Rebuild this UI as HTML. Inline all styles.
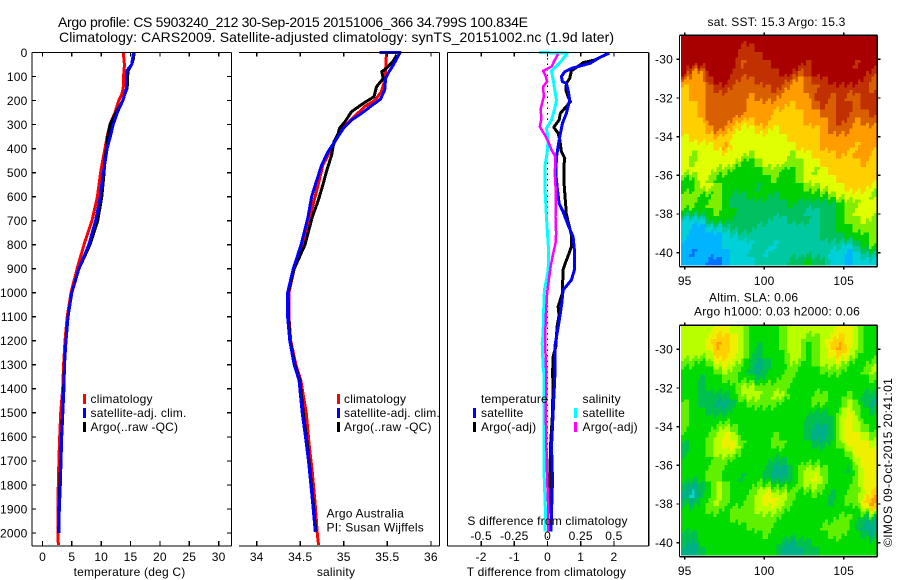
<!DOCTYPE html>
<html lang="en">
<head>
<meta charset="utf-8">
<title>Argo profile CS 5903240_212</title>
<style>
html,body{margin:0;padding:0;background:#fff;}
svg{display:block;}
text{font-family:"Liberation Sans",Arial,sans-serif;font-size:12px;fill:#000;letter-spacing:.2px;}
.title{font-size:14px;letter-spacing:0;}
.crisp{shape-rendering:crispEdges;}
</style>
</head>
<body>
<svg id="chart" xmlns="http://www.w3.org/2000/svg" width="900" height="580" viewBox="0 0 900 580">
  <rect x="0" y="0" width="900" height="580" fill="#fff"/>

  <text class="title" x="58" y="27" textLength="470">Argo profile: CS 5903240_212 30-Sep-2015 20151006_366 34.799S 100.834E</text>
  <text class="title" x="59" y="42" textLength="555">Climatology: CARS2009. Satellite-adjusted climatology: synTS_20151002.nc (1.9d later)</text>

  <g id="panel-t"></g>
  <g id="panel-s"></g>
  <g id="panel-d"></g>
  <g id="map-sst"></g>
  <g id="map-sla"></g>

  <text x="129.5" y="576" text-anchor="middle">temperature (deg C)</text>
  <text x="336" y="576" text-anchor="middle">salinity</text>
  <text x="546.5" y="576" text-anchor="middle">T difference from climatology</text>
  <text x="547.5" y="525" text-anchor="middle">S difference from climatology</text>

  <g>
    <rect class="crisp" x="83" y="394" width="3" height="10" fill="#f00"/>
    <text x="90.5" y="403">climatology</text>
    <rect class="crisp" x="83" y="408" width="3" height="10" fill="#00f"/>
    <text x="90.5" y="417">satellite-adj. clim.</text>
    <rect class="crisp" x="83" y="422" width="3" height="10" fill="#000"/>
    <text x="90.5" y="431">Argo(..raw -QC)</text>
  </g>
  <g>
    <rect class="crisp" x="337" y="394" width="3" height="10" fill="#f00"/>
    <text x="344" y="403">climatology</text>
    <rect class="crisp" x="337" y="408" width="3" height="10" fill="#00f"/>
    <text x="344" y="417">satellite-adj. clim.</text>
    <rect class="crisp" x="337" y="422" width="3" height="10" fill="#000"/>
    <text x="344" y="431">Argo(..raw -QC)</text>
  </g>
  <g>
    <text x="481" y="403">temperature</text>
    <rect class="crisp" x="473" y="408" width="3" height="10" fill="#00f"/>
    <text x="481" y="417">satellite</text>
    <rect class="crisp" x="473" y="422" width="3" height="10" fill="#000"/>
    <text x="481" y="431">Argo(-adj)</text>
    <text x="582.5" y="403">salinity</text>
    <rect class="crisp" x="574" y="408" width="3" height="10" fill="#0ff"/>
    <text x="582.5" y="417">satellite</text>
    <rect class="crisp" x="574" y="422" width="3" height="10" fill="#f0f"/>
    <text x="582.5" y="431">Argo(-adj)</text>
  </g>

  <text x="326.5" y="517.5">Argo Australia</text>
  <text x="326.5" y="531.5">PI: Susan Wijffels</text>

  <text x="707.5" y="26" textLength="138">sat. SST: 15.3 Argo: 15.3</text>
  <text x="709" y="301.5">Altim. SLA: 0.06</text>
  <text x="694" y="315.5" textLength="166">Argo h1000: 0.03 h2000: 0.06</text>
  <text transform="translate(892,547) rotate(-90)" textLength="169">©IMOS 09-Oct-2015 20:41:01</text>
</svg>

<script>
/* ---- profile depth tick labels ---- */
const depthTicks = [0,100,200,300,400,500,600,700,800,900,1000,1100,1200,1300,1400,1500,1600,1700,1800,1900,2000];
const tempTicks = [0,5,10,15,20,25,30];
const salTicks = [34,34.5,35,35.5,36];
const salTickLabels = ["34","34.5","35","35.5","36"];
const tDiffTicks = [-2,-1,0,1,2];
const sDiffTicks = [-0.5,-0.25,0,0.25,0.5];
const sDiffTickLabels = ["-0.5","-0.25","0","0.25","0.5"];
const lonTicks = [95,100,105];
const latTicks = [-30,-32,-34,-36,-38,-40];

/* ---- temperature profiles ---- */
const tempDepths = [0,25,50,75,100,125,150,175,200,225,250,275,300,350,400,450,500,600,700,800,900,1000,1100,1200,1300,1400,1500,1600,1700,1800,1900,2000];
const tempClimDepths = [0,25,50,75,100,125,150,175,200,225,250,275,300,350,400,450,500,600,700,800,900,1000,1100,1200,1300,1400,1500,1600,1700,1800,1900,2000,2050];
const tempClim = [13.8,13.85,13.95,13.9,13.8,13.8,13.75,13.5,13.0,12.65,12.35,11.9,11.5,11.0,10.65,10.25,9.9,9.35,8.43,7.07,5.9,4.85,4.2,3.84,3.6,3.44,3.1,2.93,2.8,2.7,2.6,2.65,2.7];
const tempSat = [15.5,15.35,15.2,14.4,14.3,14.3,14.3,14.0,13.7,13.2,12.75,12.4,12.05,11.55,11.0,10.7,10.35,9.85,9.05,7.9,6.2,5.0,4.35,4.0,3.75,3.65,3.45,3.27,3.15,3.04,2.87,2.8];
const tempArgo = [15.6,15.5,15.2,14.6,14.5,14.5,14.4,14.0,13.7,13.1,12.5,12.0,11.5,11.1,10.9,10.6,10.5,10.1,9.4,8.1,6.2,5.0,4.35,4.0,3.75,3.6,3.4,3.25,3.1,2.95,2.85,2.75];

/* ---- salinity profiles ---- */
const salClimDepths = [0,73,128,163,198,225,264,306,343,385,427,468,545,600,656,697,800,900,1000,1100,1200,1300,1363,1502,1627,1752,1877,2002,2050];
const salClim = [35.49,35.48,35.46,35.43,35.36,35.24,35.13,35.01,34.94,34.88,34.82,34.76,34.71,34.67,34.63,34.60,34.53,34.43,34.37,34.37,34.39,34.45,34.505,34.57,34.60,34.64,34.67,34.696,34.71];
const salSatDepths = [0,0,31,52,80,108,156,195,221,253,281,316,358,413,468,531,600,683,800,900,1000,1100,1200,1300,1363,1502,1599,1696,1807,1904,1995];
const salSat = [35.41,35.645,35.6,35.57,35.52,35.48,35.47,35.42,35.32,35.205,35.09,34.995,34.92,34.82,34.746,34.69,34.63,34.59,34.51,34.42,34.355,34.355,34.38,34.43,34.486,34.524,34.56,34.593,34.624,34.65,34.673];
const salArgoDepths = [10,34,66,80,108,142,184,212,246,288,316,337,371,427,496,545,614,683,800,900,1000,1100,1200,1300,1363,1502,1627,1752,1877,1995];
const salArgo = [35.61,35.57,35.49,35.435,35.454,35.377,35.347,35.224,35.09,35.014,34.95,34.937,34.887,34.86,34.80,34.765,34.708,34.64,34.555,34.43,34.36,34.365,34.385,34.44,34.495,34.535,34.58,34.615,34.65,34.68];

/* ---- difference profiles ---- */
const tSatDepths = [3,20,45,56,66,80,100,121,128,156,198,253,295,350,392,434,503,558,628,663,718,767,822,905,947,989,1044,1100,1169,1224,1349,1502,1640,1779,1918,1994];
const tSatDiff = [1.86,1.58,1.28,0.98,0.72,0.52,0.42,0.45,0.57,0.62,0.67,0.57,0.45,0.37,0.32,0.27,0.25,0.29,0.35,0.47,0.62,0.77,0.81,0.81,0.72,0.47,0.43,0.37,0.29,0.22,0.22,0.17,0.12,0.15,0.12,0.10];
const tArgoDepths = [3,31,42,76,108,128,156,184,205,232,253,281,311,336,364,413,440,475,531,586,642,663,760,808,836,871,905,933,961,1002,1058,1093,1141,1224,1266,1349,1363,1502,1640,1779,1918];
const tArgoDiff = [1.83,1.43,1.08,0.72,0.67,0.57,0.55,0.62,0.69,0.52,0.39,0.35,0.19,0.32,0.37,0.42,0.52,0.49,0.49,0.52,0.55,0.55,0.72,0.72,0.65,0.55,0.47,0.47,0.45,0.45,0.32,0.35,0.29,0.25,0.17,0.15,0.17,0.15,0.09,0.07,0.05];
const sSatDepths = [0,3,34,56,76,115,156,198,232,281,316,358,420,475,558,628,683,753,822,905,947,989,1058,1169,1211,1308,1349,1502,1765,1918,1994];
const sSatDiff = [-0.063,0.148,0.106,0.068,0.03,0.043,0.055,0.068,0.055,0.03,-0.008,0.005,-0.003,-0.02,-0.02,-0.013,-0.008,0,0.008,0.005,-0.008,-0.023,-0.028,-0.033,-0.04,-0.033,-0.025,-0.028,-0.025,-0.015,-0.018];
const sArgoDepths = [6,31,59,76,100,121,142,184,239,274,309,343,371,406,434,503,586,683,753,794,836,891,947,1002,1100,1197,1294,1349,1502,1640,1765,1890,1994];
const sArgoDiff = [0.08,0.055,0.03,-0.033,-0.013,-0.003,-0.033,-0.028,-0.053,-0.045,-0.058,-0.02,0.005,0.03,0.06,0.055,0.063,0.06,0.065,0.06,0.043,0.023,0.01,-0.003,-0.013,-0.018,-0.013,-0.008,-0.013,-0.008,-0.003,0.005,0.005];

/* ---- SST map levels (row north to south, column west to east) ---- */
const sstLevels = [
[12,12,12,12,12,12,12,12,12,12,12,12,12,12,12,12,12,12,12,12,12,12,12,12],
[12,12,12,12,12,12,12,11,11,12,12,12,12,12,12,12,12,12,12,12,12,12,12,12],
[12,12,12,12,12,12,12,11,11,11,12,12,12,12,12,12,12,12,12,12,12,12,12,12],
[12,12,12,12,12,12,12,10,11,11,11,12,12,12,12,11,12,12,12,12,12,11,12,12],
[12,9,9,12,12,12,11,11,11,11,11,11,12,12,10,11,12,12,12,12,12,12,12,11],
[9,9,9,11,12,12,11,10,10,11,11,11,11,10,9,10,11,11,12,12,12,12,11,10],
[8,9,9,10,11,11,10,10,10,10,10,11,10,9,9,10,10,11,11,11,11,11,11,10],
[8,9,9,10,10,10,10,10,9,10,10,10,9,9,9,9,11,11,10,11,10,10,11,11],
[8,8,9,10,10,10,10,10,9,9,9,9,9,8,9,9,10,11,10,11,11,10,11,11],
[8,8,9,10,10,10,10,10,9,9,9,8,8,8,8,9,9,10,10,11,11,10,10,11],
[8,8,8,10,10,10,9,8,8,9,9,8,8,8,8,9,9,9,10,11,10,9,10,10],
[8,8,8,9,10,9,8,7,7,8,8,7,8,8,8,8,8,9,10,10,10,9,9,9],
[7,8,8,8,8,8,7,7,7,7,7,7,7,8,8,8,8,9,9,9,9,9,9,9],
[7,7,7,7,8,9,7,7,7,7,7,7,7,7,8,8,8,9,9,9,9,8,9,9],
[7,6,7,7,7,7,7,7,6,7,7,7,7,6,7,7,8,8,8,9,8,9,9,8],
[7,6,7,7,7,7,7,5,5,6,7,7,7,6,6,7,7,8,8,8,8,8,9,8],
[7,7,7,7,6,6,5,5,5,5,6,6,5,5,6,7,6,7,8,8,8,8,8,8],
[5,5,7,6,5,5,5,5,5,5,5,6,5,5,6,7,7,7,7,8,8,8,8,8],
[5,5,7,7,6,5,5,5,5,4,5,5,5,5,5,6,6,7,7,7,8,8,8,7],
[6,6,5,5,6,5,4,4,5,5,5,4,5,5,5,5,5,5,6,7,7,7,7,6],
[6,6,5,6,6,5,4,4,4,4,4,4,4,5,4,4,4,4,4,5,6,6,7,7],
[5,5,5,5,6,5,5,4,4,4,4,4,4,4,4,3,3,4,4,5,6,7,7,7],
[2,2,2,5,5,5,4,4,4,4,4,3,3,4,4,4,3,4,4,5,6,6,7,6],
[2,1,1,2,2,3,4,4,4,3,3,3,3,3,3,3,3,4,4,5,5,6,6,6],
[2,1,1,1,1,2,2,3,3,3,3,3,3,3,3,3,3,4,4,4,5,5,5,6],
[1,1,1,1,1,2,2,2,2,3,3,2,3,3,3,3,3,3,3,3,2,4,5,6],
[1,0,1,1,1,1,2,2,3,3,2,3,3,3,3,3,3,3,2,2,1,2,4,4],
[1,1,1,0,0,1,2,2,2,3,3,3,3,4,4,5,4,4,2,2,1,2,2,2]
];

/* ---- sea level anomaly map levels ---- */
const slaLevels = [
[5,5,5,5,6,6,5,5,3,3,3,3,4,5,5,5,5,5,5,6,6,5,3,3],
[5,5,5,6,7,7,6,5,3,3,3,3,4,5,5,4,4,5,6,7,6,5,3,3],
[5,5,5,6,8,7,6,5,3,2,3,3,4,5,5,3,4,5,7,8,6,5,3,3],
[5,5,5,5,7,7,6,5,3,2,3,3,3,5,5,3,4,5,6,7,6,4,3,3],
[4,4,3,4,6,6,5,4,2,1,2,3,3,5,4,3,4,5,5,5,4,3,3,4],
[3,3,3,3,4,5,4,3,2,1,2,3,3,4,3,3,3,4,4,4,3,3,4,5],
[3,3,2,3,3,4,4,3,3,2,3,3,4,4,3,3,3,3,3,3,3,3,3,4],
[3,3,2,3,3,3,3,5,5,4,4,4,4,3,3,3,3,3,3,3,3,3,3,3],
[3,3,2,2,2,2,3,5,5,5,4,5,5,3,3,3,4,4,3,3,4,3,2,2],
[4,3,2,2,1,1,2,3,4,4,4,4,3,3,3,3,4,4,3,3,5,4,2,1],
[4,3,3,2,2,2,3,3,3,3,3,3,3,3,3,3,2,2,3,4,6,4,3,2],
[4,3,3,3,3,3,3,3,3,3,3,3,3,3,3,2,2,2,2,5,6,5,3,3],
[4,3,3,3,4,5,4,3,3,3,3,3,3,3,3,2,1,1,2,5,6,5,4,3],
[3,3,3,4,5,6,5,3,3,3,3,4,3,3,3,2,1,1,2,5,6,6,5,4],
[2,3,3,4,5,6,6,4,3,3,3,4,4,3,3,3,2,2,3,4,6,6,6,5],
[2,3,3,4,5,5,5,3,3,3,3,3,3,3,3,3,3,3,3,3,4,6,6,6],
[3,3,3,3,4,4,3,3,3,3,3,2,2,3,3,3,3,3,3,3,3,5,6,6],
[3,3,3,4,4,3,3,3,3,3,2,1,1,2,4,5,5,4,3,3,2,4,6,6],
[3,3,3,4,4,3,3,2,3,3,2,1,1,2,4,5,6,4,3,3,3,4,6,6],
[2,1,2,3,5,4,3,3,3,4,4,3,3,3,4,5,5,4,3,3,3,4,6,6],
[1,0,2,3,5,4,3,3,4,5,6,5,5,4,3,3,4,3,2,3,4,4,5,7],
[2,1,3,4,5,4,3,3,4,5,6,6,5,4,3,3,3,3,2,3,4,4,7,8],
[3,3,3,4,4,3,4,4,4,5,5,5,4,3,3,3,3,3,3,3,3,3,5,7],
[3,3,3,3,3,3,4,4,4,4,4,4,3,3,3,3,3,3,3,4,4,3,2,2],
[3,3,3,3,3,3,3,3,4,4,4,3,3,3,3,3,3,4,4,4,4,2,1,1],
[2,2,3,3,3,3,3,3,3,3,4,3,3,3,3,3,3,3,4,4,3,3,2,1],
[2,1,3,3,3,3,3,3,3,3,3,3,2,1,2,2,3,3,3,3,3,3,3,3],
[1,1,2,3,3,3,3,3,3,3,3,3,1,1,1,2,2,3,3,3,3,3,3,3]
];

const sstPalette = ['#0070ff','#00b4ff','#00d0d8','#00c8a0','#00c060','#00d000','#80ee00','#e0ff00','#ffd000','#ff9c00','#d86000','#c03000','#a80000'];
const slaPalette = ['#00d8c8','#00b088','#00c050','#00dc00','#60f000','#b8ff00','#eef000','#ffd000','#ffa000'];

const NS = 'http://www.w3.org/2000/svg';
function make(parent, tag, attrs) {
  const el = document.createElementNS(NS, tag);
  for (const k in attrs) el.setAttribute(k, attrs[k]);
  parent.appendChild(el);
  return el;
}

/* ---- axis functions ---- */
const TOP = 52.5, BOTTOM = 546;
const yDepth = d => 52.5 + d * 0.24025;
const xTemp = t => 42.5 + 5.87 * t;
const xSal = s => 256.7 + 87.1 * (s - 34);
const xTDiff = v => 547.5 + 33.2 * v;
const xSDiff = v => 547.5 + 132.8 * v;
const lonX = lon => 684.7 + (lon - 95) * 15.9;
const latY = lat => 59.3 + (-30 - lat) * 19.33;

function drawLine(parent, x1, y1, x2, y2, name) {
  const el = make(parent, 'line', {x1: x1, y1: y1, x2: x2, y2: y2, stroke: '#000', 'stroke-width': 1.3, class: 'crisp'});
  
  
  return el;
}
function drawText(parent, x, y, anchor, label, name) {
  const el = make(parent, 'text', {x: x, y: y, 'text-anchor': anchor});
  el.textContent = label;
  
  
  return el;
}
function drawSeries(parent, depths, values, xFn, color, width, name) {
  const pts = depths.map((d, i) => xFn(values[i]).toFixed(1) + ',' + yDepth(d).toFixed(1)).join(' ');
  const el = make(parent, 'polyline', {points: pts, fill: 'none', stroke: color, 'stroke-width': width, class: 'crisp', 'stroke-linejoin': 'round'});
  
  
  return el;
}
function drawXTicks(parent, ticks, labels, xFn, labelY) {
  ticks.forEach((t, i) => {
    const x = xFn(t);
    drawLine(parent, x, TOP, x, TOP + 4, 'x-tick-top');
    drawLine(parent, x, BOTTOM, x, BOTTOM - 5, 'x-tick-bottom');
    if (labelY) drawText(parent, x, labelY, 'middle', String(labels[i]), 'x-tick-label');
  });
}

/* ---- temperature panel ---- */
const gT = document.getElementById('panel-t');
drawSeries(gT, tempClimDepths, tempClim, xTemp, '#f00', 3, 'climatology-temperature-line');
drawSeries(gT, tempDepths, tempArgo, xTemp, '#000', 3, 'argo-temperature-line');
drawSeries(gT, tempDepths, tempSat, xTemp, '#00f', 3, 'satellite-temperature-line');
drawLine(gT, 32, TOP, 231.5, TOP, 'temperature-panel-top-spine');
drawLine(gT, 32, TOP, 32, BOTTOM, 'temperature-panel-left-spine');
drawLine(gT, 231.5, TOP, 231.5, BOTTOM, 'temperature-panel-right-spine');
drawLine(gT, 32, BOTTOM, 231.5, BOTTOM, 'temperature-panel-bottom-spine');
drawXTicks(gT, tempTicks, tempTicks, xTemp, 561);
depthTicks.forEach(d => {
  const y = yDepth(d);
  drawLine(gT, 32, y, 36, y, 'depth-tick-left');
  drawLine(gT, 231.5, y, 227, y, 'depth-tick-right');
  drawText(gT, 27.5, y + 4.3, 'end', String(d), 'depth-tick-label');
});

/* ---- salinity panel ---- */
const gS = document.getElementById('panel-s');
drawSeries(gS, salClimDepths, salClim, xSal, '#f00', 3, 'climatology-salinity-line');
drawSeries(gS, salArgoDepths, salArgo, xSal, '#000', 3, 'argo-salinity-line');
drawSeries(gS, salSatDepths, salSat, xSal, '#00f', 3, 'satellite-salinity-line');
drawLine(gS, 239, TOP, 439.5, TOP, 'salinity-panel-top-spine');
drawLine(gS, 439.5, TOP, 439.5, BOTTOM, 'salinity-panel-right-spine');
drawLine(gS, 239, BOTTOM, 439.5, BOTTOM, 'salinity-panel-bottom-spine');
drawXTicks(gS, salTicks, salTickLabels, xSal, 561);

/* ---- difference panel ---- */
const gD = document.getElementById('panel-d');
const zeroLine = drawLine(gD, 547.5, TOP, 547.5, BOTTOM, 'zero-difference-line');
zeroLine.setAttribute('stroke-dasharray', '1.5 4');
drawSeries(gD, tArgoDepths, tArgoDiff, xTDiff, '#000', 3, 'argo-t-difference-line');
drawSeries(gD, tSatDepths, tSatDiff, xTDiff, '#00f', 3, 'satellite-t-difference-line');
drawSeries(gD, sSatDepths, sSatDiff, xSDiff, '#0ff', 3, 'satellite-s-difference-line');
drawSeries(gD, sArgoDepths, sArgoDiff, xSDiff, '#f0f', 2.5, 'argo-s-difference-line');
drawLine(gD, 447.5, TOP, 648.7, TOP, 'difference-panel-top-spine');
drawLine(gD, 447.5, TOP, 447.5, BOTTOM, 'difference-panel-left-spine');
drawLine(gD, 648.7, TOP, 648.7, BOTTOM, 'difference-panel-right-spine');
drawLine(gD, 447.5, BOTTOM, 648.7, BOTTOM, 'difference-panel-bottom-spine');
drawXTicks(gD, tDiffTicks, tDiffTicks, xTDiff, 561);
sDiffTicks.forEach((t, i) => {
  drawText(gD, xSDiff(t), 540, 'middle', sDiffTickLabels[i], 's-difference-tick-label');
});

/* ---- maps: each grid cell is shaded in sub-cells sampled between neighbouring grid values ---- */
const LON_MIN = 94.77, LON_MAX = 107.09, LAT_MAX = -28.77, LAT_MIN = -40.65;
const SUB = 3;
function sampleGrid(levels, rf, cf) {
  const rows = levels.length, cols = levels[0].length;
  const r = Math.max(0, Math.min(rows - 1, rf)), c = Math.max(0, Math.min(cols - 1, cf));
  const r0 = Math.floor(r), c0 = Math.floor(c);
  const r1 = Math.min(rows - 1, r0 + 1), c1 = Math.min(cols - 1, c0 + 1);
  const a = r - r0, b = c - c0;
  return levels[r0][c0] * (1 - a) * (1 - b) + levels[r0][c1] * (1 - a) * b + levels[r1][c0] * a * (1 - b) + levels[r1][c1] * a * b;
}
function drawMap(parent, levels, palette, dy, cellName) {
  const rows = levels.length, cols = levels[0].length;
  const dLon = (LON_MAX - LON_MIN) / (cols * SUB), dLat = (LAT_MAX - LAT_MIN) / (rows * SUB);
  for (let i = 0; i < rows * SUB; i++) {
    for (let j = 0; j < cols * SUB; j++) {
      const tooth = ((j % 3) - 1) * 0.35;
      const rf = (i + 0.5) / SUB - 0.5 + tooth;
      const cf = (j + 0.5) / SUB - 0.5;
      const level = Math.round(sampleGrid(levels, rf, cf));
      const x0 = lonX(LON_MIN + j * dLon), x1 = lonX(LON_MIN + (j + 1) * dLon);
      const y0 = latY(LAT_MAX - i * dLat) + dy, y1 = latY(LAT_MAX - (i + 1) * dLat) + dy;
      const cell = make(parent, 'rect', {x: x0.toFixed(2), y: y0.toFixed(2), width: (x1 - x0 + 0.4).toFixed(2), height: (y1 - y0 + 0.4).toFixed(2), fill: palette[level], class: 'crisp'});
      
      
    }
  }
  const L = 679.5, R = 877.3, T = 35.3 + dy, B = 266.7 + dy;
  drawLine(parent, L, T, R, T, 'map-top-spine');
  drawLine(parent, L, B, R, B, 'map-bottom-spine');
  drawLine(parent, L, T, L, B, 'map-left-spine');
  drawLine(parent, R, T, R, B, 'map-right-spine');
  lonTicks.forEach(lon => {
    const x = lonX(lon);
    drawLine(parent, x, T, x, T - 3, 'longitude-tick-top');
    drawLine(parent, x, B, x, B + 3, 'longitude-tick-bottom');
    drawText(parent, x, 285 + dy, 'middle', String(lon), 'longitude-tick-label');
  });
  latTicks.forEach(lat => {
    const y = latY(lat) + dy;
    drawLine(parent, L, y, L - 3, y, 'latitude-tick-left');
    drawLine(parent, R, y, R + 3, y, 'latitude-tick-right');
    drawText(parent, 673, y + 4.3, 'end', String(lat), 'latitude-tick-label');
  });
}
drawMap(document.getElementById('map-sst'), sstLevels, sstPalette, 0, 'sst-cell');
drawMap(document.getElementById('map-sla'), slaLevels, slaPalette, 290, 'sla-cell');
</script>
</body>
</html>
